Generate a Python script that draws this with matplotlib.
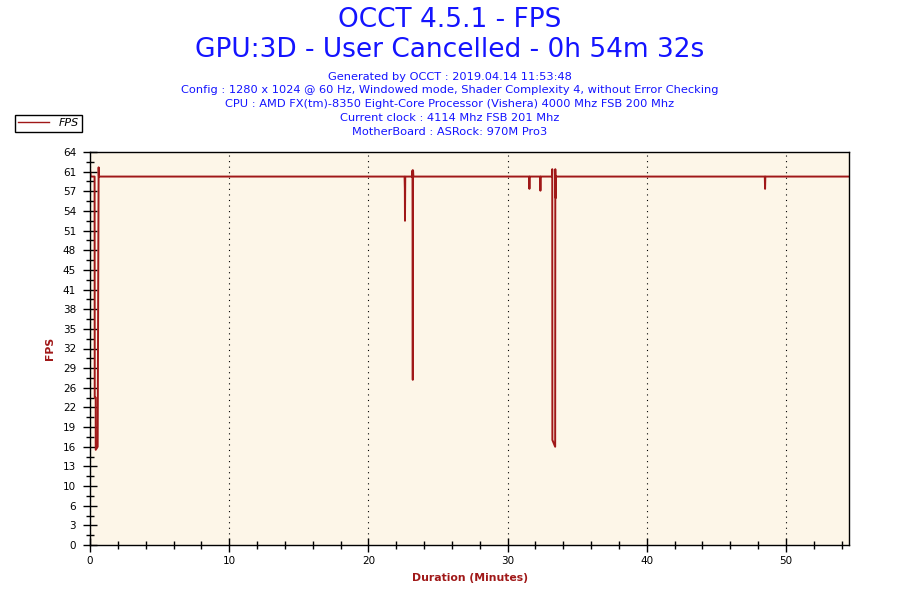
import matplotlib
matplotlib.use("Agg")
import matplotlib.pyplot as plt
from matplotlib.ticker import FixedLocator, MultipleLocator

plt.rcParams['font.family'] = ['DejaVu Sans']

INFO_LINES = [
    "Generated by OCCT : 2019.04.14 11:53:48",
    "Config : 1280 x 1024 @ 60 Hz, Windowed mode, Shader Complexity 4, without Error Checking",
    "CPU : AMD FX(tm)-8350 Eight-Core Processor (Vishera) 4000 Mhz FSB 200 Mhz",
    "Current clock : 4114 Mhz FSB 201 Mhz",
    "MotherBoard : ASRock: 970M Pro3",
]

# time in minutes, fps
minutes = [0.00, 0.05, 0.33, 0.34, 0.41, 0.41, 0.55, 0.62, 0.64,
           22.60, 22.62, 22.63, 22.65,
           23.15, 23.17, 23.18, 23.19, 23.21, 23.23,
           31.55, 31.57, 31.59,
           32.34, 32.36, 32.38,
           33.19, 33.21, 33.22, 33.42, 33.43, 33.46, 33.48,
           48.48, 48.50, 48.52,
           54.53]
fps = [61.2, 60.0, 60.0, 24.0, 24.0, 15.5, 16.0, 61.5, 60.0,
       60.0, 58.0, 52.8, 60.0,
       60.0, 61.0, 42.7, 26.9, 61.0, 60.0,
       60.0, 58.0, 60.0,
       60.0, 57.7, 60.0,
       60.0, 61.2, 17.1, 16.0, 61.2, 56.5, 60.0,
       60.0, 58.0, 60.0,
       60.0]

y_ticks = [0, 3.2, 6.4, 9.6, 12.8, 16, 19.2, 22.4, 25.6, 28.8, 32,
           35.2, 38.4, 41.6, 44.8, 48, 51.2, 54.4, 57.6, 60.8, 64]
y_labels = ["0", "3", "6", "10", "13", "16", "19", "22", "26", "29", "32",
            "35", "38", "41", "45", "48", "51", "54", "57", "61", "64"]
x_ticks = [0, 10, 20, 30, 40, 50]

RED = "#a01818"
BLUE = "#1414ff"

fig = plt.figure(figsize=(9, 6), dpi=100)
ax = fig.add_axes([90/900, 1-545/600, (849-90)/900, (545-152)/600])
ax.set_facecolor("#fdf6e8")

line, = ax.plot(minutes, fps, color=RED, lw=1.4, label="FPS")

ax.set_xlim(0, 54.53)
ax.set_ylim(0, 64)
ax.yaxis.set_major_locator(FixedLocator(y_ticks))
ax.set_yticklabels(y_labels)
ax.yaxis.set_minor_locator(FixedLocator([v + 1.6 for v in y_ticks[:-1]]))
ax.xaxis.set_major_locator(FixedLocator(x_ticks))
ax.xaxis.set_minor_locator(MultipleLocator(2))
ax.tick_params(which="major", direction="inout", length=10, width=1, labelsize=7.5, pad=5)
ax.tick_params(axis="x", which="major", pad=3)
ax.tick_params(which="minor", direction="inout", length=6, width=1)
ax.tick_params(axis="y", which="both", right=False)
ax.tick_params(axis="x", which="both", top=False)
for s in ax.spines.values():
    s.set_linewidth(1)
ax.grid(axis="x", which="major", color="black", linestyle=(0, (1, 4)), lw=0.8)

ax.set_xlabel("Duration (Minutes)", color=RED, fontweight="bold", fontsize=7.8, labelpad=5)
ax.set_ylabel("FPS", color=RED, fontweight="bold", fontsize=7.8, labelpad=6)

fig.text(0.5, 1-20/600, "OCCT 4.5.1 - FPS", ha="center", va="center", color=BLUE, fontsize=19)
fig.text(0.5, 1-50/600, "GPU:3D - User Cancelled - 0h 54m 32s", ha="center", va="center",
         color=BLUE, fontsize=19)
for i, txt in enumerate(INFO_LINES):
    fig.text(0.5, 1-(76.5 + 13.8*i)/600, txt, ha="center", va="center", color=BLUE, fontsize=8.2)

leg = fig.legend(handles=[line], loc="upper left", bbox_to_anchor=(15/900, 1-115/600),
                 fancybox=False, framealpha=1, edgecolor="black", fontsize=8,
                 handlelength=2.8, borderpad=0.3, handletextpad=0.8, borderaxespad=0)
leg.get_frame().set_linewidth(1)
for t in leg.get_texts():
    t.set_fontstyle("italic")
leg.get_lines()[0].set_linewidth(1)

fig.savefig("out.png", dpi=100, facecolor="white")
